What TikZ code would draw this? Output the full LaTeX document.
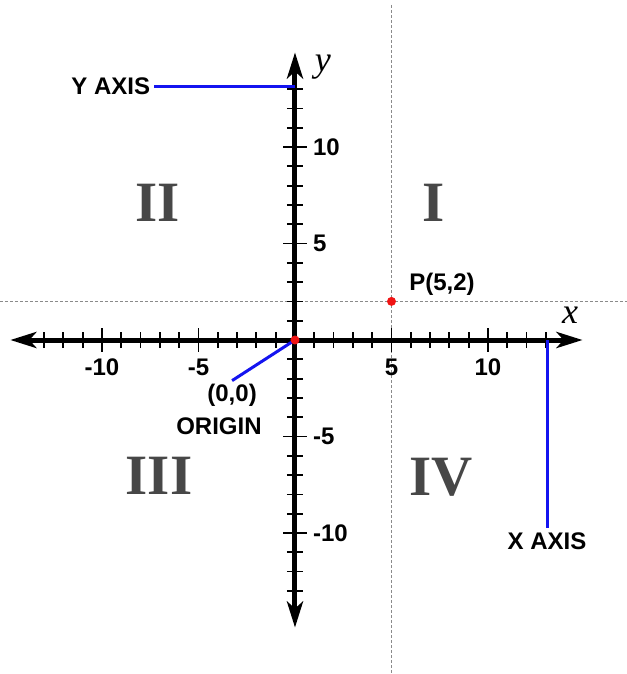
\documentclass[tikz,border=0pt]{standalone}
\usepackage{fontspec}
\setmainfont{Liberation Sans}
\newfontfamily\quadfont{Liberation Serif}
\definecolor{LeadBlue}{HTML}{1414F0}
\definecolor{GuideGray}{HTML}{8A8A8A}
\definecolor{QuadGray}{HTML}{474747}
\definecolor{PointRed}{HTML}{F01414}
\usetikzlibrary{arrows.meta}

\begin{document}
\begin{tikzpicture}[x=19.3pt, y=19.3pt,
  axis/.style={line width=5pt, {Stealth[length=26pt, width=16pt, inset=7pt]}-{Stealth[length=26pt, width=16pt, inset=7pt]}},
  tck/.style={line width=1.8pt},
  guide/.style={GuideGray, line width=0.8pt, dash pattern=on 3pt off 2pt},
  lead/.style={LeadBlue, line width=3pt},
  lbl/.style={font=\fontsize{24}{27}\selectfont\bfseries, inner sep=0pt},
  quad/.style={font=\quadfont\bfseries\fontsize{57}{60}\selectfont, text=QuadGray, inner sep=0pt},
  var/.style={font=\quadfont\itshape\fontsize{36}{40}\selectfont, inner sep=0pt},
  dot/.style={circle, fill=PointRed, minimum size=9pt, inner sep=0pt},
]
  \useasboundingbox (-15.285,-17.306) rectangle (17.202,17.617);

  % guides through P
  \coordinate (gw) at (-15.285,2);
  \coordinate (ge) at (17.202,2);
  \coordinate (gn) at (5,17.36);
  \coordinate (gs) at (5,-17.306);
  \draw[guide] (gw) -- (ge);
  \draw[guide] (gn) -- (gs);

  % axes
  \coordinate (xmin) at (-14.75,0);
  \coordinate (xmax) at (14.9,0);
  \coordinate (ymin) at (0,-14.9);
  \coordinate (ymax) at (0,14.9);
  \draw[axis] (xmin) -- (xmax);
  \draw[axis] (ymin) -- (ymax);

  \foreach \i in {-13,...,-1,1,2,...,13} {
    \draw[tck] (\i,-0.42) -- (\i,0.42);
    \draw[tck] (-0.42,\i) -- (0.42,\i);
  }
  \foreach \i in {-10,-5,5,10} {
    \draw[tck] (\i,-0.6) -- (\i,0.6);
    \draw[tck] (-0.6,\i) -- (0.6,\i);
    \node[lbl] at (\i,-1.4) {\i};
    \node[lbl, anchor=west] at (0.93,\i) {\i};
  }

  \node[var] (xvar) at (14.25,1.3) {x};
  \node[var] (yvar) at (1.45,14.15) {y};

  % quadrants
  \node[quad] (q1) at (7.2,7.1) {I};
  \node[quad] (q2) at (-7.1,7.12) {II};
  \node[quad] (q3) at (-7.05,-7.05) {III};
  \node[quad] (q4) at (7.56,-7.1) {IV};

  % callouts
  \node[lbl, anchor=east] (ylbl) at (-7.5,13.16) {Y AXIS};
  \coordinate (yend) at (0,13.16);
  \draw[lead] (ylbl.east) ++(4pt,0) -- (yend);

  \node[lbl] (xlbl) at (13.06,-10.41) {X AXIS};
  \coordinate (xend) at (13.06,0);
  \draw[lead] (xend) -- ([yshift=4pt]xlbl.north);

  \coordinate (O) at (0,0);
  \node[lbl] (zero) at (-3.26,-2.85) {(0,0)};
  \node[lbl] (orig) at (-3.94,-4.46) {ORIGIN};
  \draw[lead] (O) -- ([yshift=3pt]zero.north);

  \node[dot] (P) at (5,2) {};
  \node[dot] (Odot) at (O) {};
  \node[lbl] (plbl) at (7.62,2.9) {P(5,2)};
\end{tikzpicture}
\end{document}
